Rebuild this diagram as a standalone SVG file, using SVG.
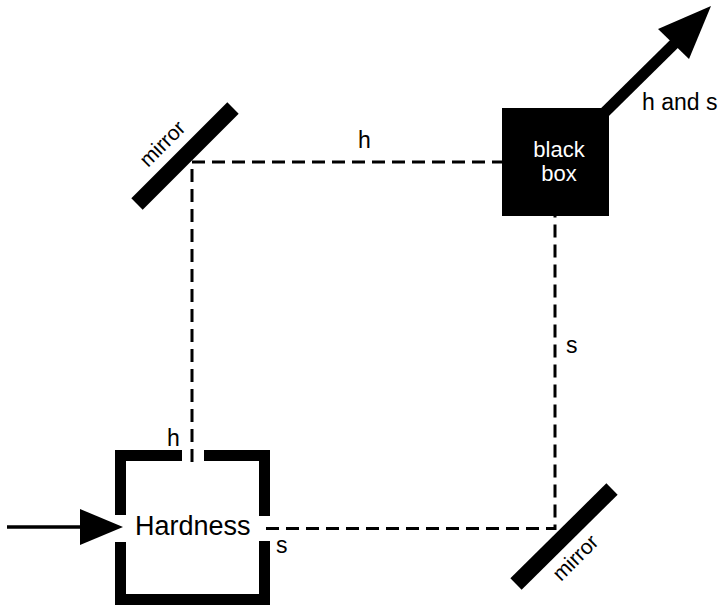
<svg xmlns="http://www.w3.org/2000/svg" width="723" height="607" viewBox="0 0 723 607">
<style>
.dash{fill:none;stroke:#000;stroke-width:3;stroke-dasharray:13 7}
.wall{fill:none;stroke:#000;stroke-width:11;stroke-linejoin:miter;stroke-linecap:butt}
.mirror{stroke:#000;stroke-width:16;stroke-linecap:butt}
.lbl{font-family:"Liberation Sans",Arial,Helvetica,sans-serif;fill:#000}
</style>
<rect width="723" height="607" fill="#fff"/>
<g id="connectors">
<path class="dash" d="M192,462 V162 H502"/>
<path class="dash" d="M266,528.5 H555 V216"/>
<line x1="7" y1="527" x2="82" y2="527" stroke="#000" stroke-width="3.5"/>
<polygon points="80,509 123,527 80,545" fill="#000"/>
<line x1="600" y1="117" x2="676" y2="42" stroke="#000" stroke-width="11"/>
<polygon points="711,6 658,29 689,59" fill="#000"/>
<text class="lbl" x="358" y="148" font-size="23">h</text>
<text class="lbl" x="566" y="353" font-size="23">s</text>
<text class="lbl" x="167" y="446" font-size="23">h</text>
<text class="lbl" x="276" y="553" font-size="23">s</text>
<text class="lbl" x="642" y="110" font-size="23">h and s</text>
</g>
<g id="hardness">
<path class="wall" d="M182,455.5 H120.5 V515"/>
<path class="wall" d="M120.5,542 V599.5 H264.5 V541"/>
<path class="wall" d="M264.5,516 V455.5 H204"/>
<text class="lbl" x="135" y="535" font-size="27">Hardness</text>
</g>
<g id="mirror-top">
<line class="mirror" x1="137" y1="204" x2="233" y2="108"/>
<text class="lbl" font-size="21" transform="translate(148,168) rotate(-45)">mirror</text>
</g>
<g id="mirror-bottom">
<line class="mirror" x1="516" y1="584" x2="612" y2="489"/>
<text class="lbl" font-size="21" transform="translate(561,582) rotate(-45)">mirror</text>
</g>
<g id="black-box">
<rect x="502" y="108" width="107" height="108" fill="#000"/>
<text class="lbl" x="559" y="157" font-size="22" text-anchor="middle" style="fill:#fff">black</text>
<text class="lbl" x="559" y="181" font-size="22" text-anchor="middle" style="fill:#fff">box</text>
</g>
</svg>
